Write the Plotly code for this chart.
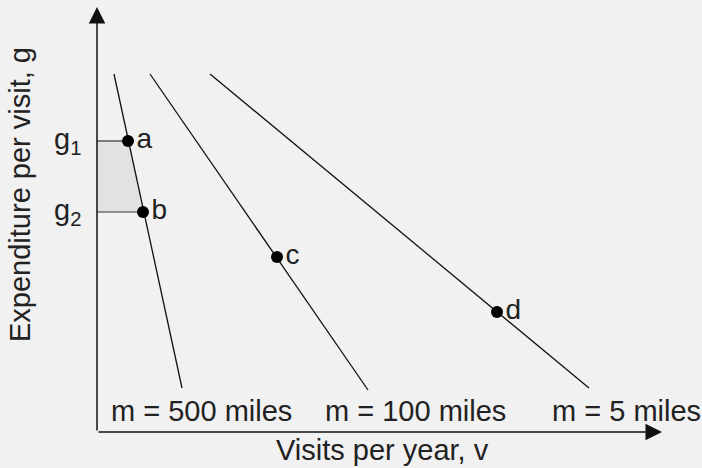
import plotly.graph_objects as go

# Demand curves (visits v vs expenditure per visit g), in chart units
line_names = ["m = 500 miles", "m = 100 miles", "m = 5 miles"]
line_v = [[17, 85], [53, 271], [113, 492]]
line_g = [[358, 44], [358, 42], [358, 44]]

# Marked points
pt_names = ["a", "b", "c", "d"]
pt_v = [31, 46, 180, 400]
pt_g = [291, 220, 175, 120]

# g levels
g_labels = ["g<sub>1</sub>", "g<sub>2</sub>"]
g_values = [291, 220]

# Label positions for the curve names
label_v = [104, 318, 529]
label_g = [21, 21, 21]

FONT = "Liberation Sans, Arial, Helvetica, sans-serif"
INK = "#111111"
TXT = "#222222"
BG = "#f1f1f1"
FS = 29

fig = go.Figure()

# shaded area between g1 and g2
fig.add_trace(go.Scatter(
    x=[0, pt_v[0], pt_v[1], 0, 0],
    y=[g_values[0], pt_g[0], pt_g[1], g_values[1], g_values[0]],
    mode="lines", fill="toself", fillcolor="#e2e2e2",
    line=dict(width=0), hoverinfo="skip", showlegend=False))
# horizontal guides
for i, gv in enumerate(g_values):
    fig.add_trace(go.Scatter(x=[0, pt_v[i]], y=[gv, pt_g[i]], mode="lines",
                             line=dict(color="#333333", width=1.2),
                             showlegend=False, hoverinfo="skip"))

for name, xs, ys in zip(line_names, line_v, line_g):
    fig.add_trace(go.Scatter(x=xs, y=ys, mode="lines", name=name,
                             line=dict(color=INK, width=1.3), showlegend=False))

fig.add_trace(go.Scatter(x=pt_v, y=pt_g, mode="markers+text", text=pt_names,
                         textposition="middle right",
                         textfont=dict(family=FONT, size=FS - 1, color=TXT),
                         marker=dict(color="black", size=12),
                         showlegend=False))

annotations = []
for name, lv, lg in zip(line_names, label_v, label_g):
    annotations.append(dict(x=lv, y=lg, text=name, showarrow=False,
                            font=dict(family=FONT, size=FS, color=TXT),
                            xanchor="center", yanchor="middle"))
for lab, gv in zip(g_labels, g_values):
    annotations.append(dict(x=-14, y=gv, text=lab, showarrow=False,
                            font=dict(family=FONT, size=FS, color=TXT),
                            xanchor="right", yanchor="middle"))
# axes arrows
annotations.append(dict(x=565, y=0, ax=0, ay=0, axref="x", ayref="y",
                        xref="x", yref="y", text="", showarrow=True,
                        arrowhead=2, arrowsize=2.2, arrowwidth=1.5, arrowcolor=INK))
annotations.append(dict(x=0, y=425, ax=0, ay=0, axref="x", ayref="y",
                        xref="x", yref="y", text="", showarrow=True,
                        arrowhead=2, arrowsize=2.2, arrowwidth=1.5, arrowcolor=INK))
# axis titles
annotations.append(dict(x=285, y=-18, text="Visits per year, v", showarrow=False,
                        font=dict(family=FONT, size=FS, color=TXT),
                        xanchor="center", yanchor="middle"))
annotations.append(dict(x=-77, y=237, text="Expenditure per visit, g", showarrow=False,
                        textangle=-90,
                        font=dict(family=FONT, size=FS, color=TXT),
                        xanchor="center", yanchor="middle"))

fig.update_layout(
    width=702, height=468,
    margin=dict(l=0, r=0, t=0, b=0),
    paper_bgcolor=BG, plot_bgcolor=BG,
    xaxis=dict(range=[-97, 605], visible=False, fixedrange=True),
    yaxis=dict(range=[-36, 432], visible=False, fixedrange=True),
    annotations=annotations,
    showlegend=False,
)

fig.write_html("out.html",
               config={"displayModeBar": False, "staticPlot": True},
               post_script="document.body.style.margin='0';document.body.style.overflow='hidden';")
